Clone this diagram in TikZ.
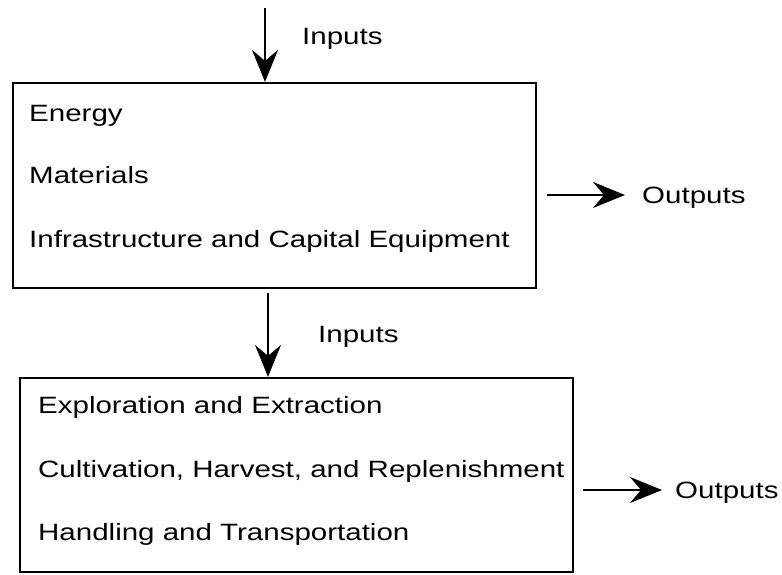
\documentclass[tikz,border=0pt]{standalone}
\usepackage{fontspec}
\setmainfont[FakeStretch=1.25]{Liberation Sans}
\usetikzlibrary{arrows.meta}
\begin{document}
\begin{tikzpicture}[x=1pt,y=-1pt,
  lbl/.style={anchor=base west, inner sep=0pt, font=\fontsize{23.6}{28}\selectfont},
  boxst/.style={draw, line width=2.2pt, inner sep=0pt},
  arr/.style={line width=1.9pt, -{Stealth[length=32pt,width=26pt,inset=11pt]}}]
\useasboundingbox (0,0) rectangle (782,575);
% boxes
\node[boxst, minimum width=523pt, minimum height=205pt] (b1) at (274.5,185.5) {};
\node[boxst, minimum width=553pt, minimum height=194pt] (b2) at (296.5,475) {};
% box 1 texts
\node[lbl] (e1) at (29,122) {Energy};
\node[lbl] (e2) at (29,183) {Materials};
\node[lbl] (e3) at (29,247) {Infrastructure and Capital Equipment};
% box 2 texts
\node[lbl] (f1) at (38,413) {Exploration and Extraction};
\node[lbl] (f2) at (38,477) {Cultivation, Harvest, and Replenishment};
\node[lbl] (f3) at (38,540) {Handling and Transportation};
% inputs
\coordinate (t0) at (265,8);
\node[lbl] (in1) at (302,45) {Inputs};
\draw[arr] (t0) -- (t0 |- b1.north);
\coordinate (m0) at (268,293);
\node[lbl] (in2) at (318,342) {Inputs};
\draw[arr] (m0) -- (m0 |- b2.north);
% outputs
\coordinate (a1) at (547,195);
\node[lbl] (o1) at (642,204) {Outputs};
\draw[arr] (a1) -- (625,195);
\coordinate (a2) at (583,490);
\node[lbl] (o2) at (675,498) {Outputs};
\draw[arr] (a2) -- (662,490);
\end{tikzpicture}
\end{document}
